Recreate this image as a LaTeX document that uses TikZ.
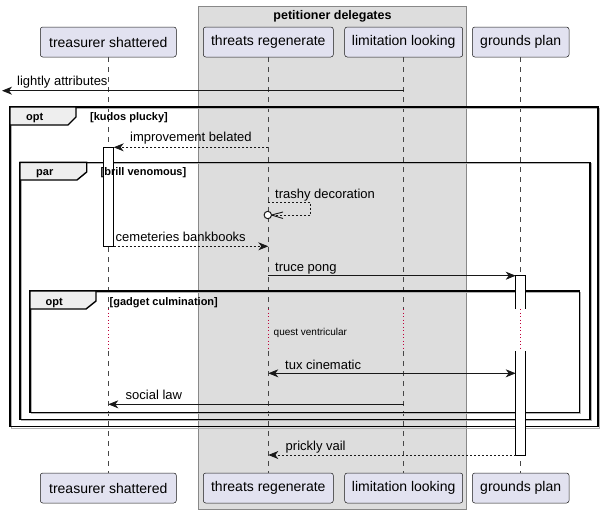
\documentclass[tikz,border=0pt]{standalone}
\usepackage{fontspec}
\setmainfont{Liberation Sans}
\usetikzlibrary{arrows.meta,calc}
\definecolor{partfill}{HTML}{E2E2F0}
\definecolor{partdraw}{HTML}{181818}
\definecolor{grpfill}{HTML}{DDDDDD}
\definecolor{grpdraw}{HTML}{888888}
\definecolor{tabfill}{HTML}{EEEEEE}
\definecolor{delayred}{HTML}{C0003A}
\tikzset{
  x=1pt,y=-1pt,
  part/.style={draw=partdraw,fill=partfill,rounded corners=2.5pt,line width=0.5pt,minimum height=30pt,inner sep=0pt,font=\fontsize{14}{16}\selectfont,anchor=center},
  lifeline/.style={draw=partdraw!80,dash pattern=on 5pt off 5pt,line width=0.5pt},
  msg/.style={line width=0.8pt,draw=partdraw},
  dmsg/.style={line width=0.8pt,draw=partdraw,dash pattern=on 2pt off 2pt},
  tipf/.style={-{Stealth[length=10pt,width=8pt,inset=3pt]}},
  tipb/.style={{Stealth[length=10pt,width=8pt,inset=3pt]}-{Stealth[length=10pt,width=8pt,inset=3pt]}},
  mlabel/.style={font=\fontsize{13}{15}\selectfont,anchor=base west,inner sep=0pt},
  glabel/.style={font=\bfseries\fontsize{11}{13}\selectfont,anchor=base west,inner sep=0pt},
  framestyle/.style={draw=black,line width=1.4pt},
  shadowstyle/.style={draw=gray!60,line width=1pt},
  actbox/.style={draw=black,fill=white,line width=0.8pt},
  delaydot/.style={draw=delayred,dash pattern=on 1pt off 2.5pt,line width=1pt}
}
\begin{document}
\begin{tikzpicture}
\useasboundingbox (0,0) rectangle (604,514);
% group box
\path[fill=grpfill,draw=grpdraw,line width=0.6pt] (198.7,6) rectangle (466.3,509);
\node[font=\bfseries\fontsize{12.5}{14}\selectfont,anchor=base] (grp) at (332.5,19) {petitioner delegates};

% participants top
\node[part,minimum width=136pt] (t1) at (108.3,42) {treasurer shattered};
\node[part,minimum width=130pt] (r1) at (268.3,42) {threats regenerate};
\node[part,minimum width=118pt] (l1) at (403.7,42) {limitation looking};
\node[part,minimum width=96.7pt] (g1) at (520.7,42) {grounds plan};
% participants bottom
\node[part,minimum width=136pt] (t2) at (108.3,488) {treasurer shattered};
\node[part,minimum width=130pt] (r2) at (268.3,488) {threats regenerate};
\node[part,minimum width=118pt] (l2) at (403.7,488) {limitation looking};
\node[part,minimum width=96.7pt] (g2) at (520.7,488) {grounds plan};

% lifelines with delay
\foreach \a/\b/\x in {t1/t2/108.3,r1/r2/268.3,l1/l2/403.7,g1/g2/520.7}{
  \coordinate (\a d1) at (\x,309);
  \coordinate (\a d2) at (\x,351);
  \draw[lifeline] (\a.south) -- (\a d1);
  \draw[lifeline] (\a d2) -- (\b.north);
  \draw[delaydot] (\a d1) -- (\a d2);
}

% lightly attributes
\coordinate (leftend) at (2,90.7);
\draw[msg,tipf] (l1|-leftend) -- (leftend);
\node[mlabel] (m1) at (17,85) {lightly attributes};

% frame shadows
\foreach \l/\t/\r/\bb in {10/107/598/426.7, 20/162.3/590/419.3, 30/291/579.3/412.3}{
  \draw[shadowstyle] (\l+1.4,\t+1.4) rectangle (\r+1.4,\bb+1.4);
}
% kudos frame
\draw[framestyle] (10,107) rectangle (598,426.7);
\path[fill=tabfill,draw=black,line width=1.4pt] (10,107) -- (76,107) -- (76,117) -- (68,125) -- (10,125) -- cycle;
\node[glabel] (f1a) at (26,120.5) {opt};
\node[glabel] (f1b) at (90,120) {[kudos plucky]};

% improvement belated
\draw[dmsg,tipf] (r1d1|-0,147.3) -- (113.7,147.3);
\node[mlabel] (m2) at (130,141.5) {improvement belated};

% par frame
\draw[framestyle] (20,162.3) rectangle (590,419.3);
\path[fill=tabfill,draw=black,line width=1.4pt] (20,162.3) -- (86.7,162.3) -- (86.7,172) -- (77,180) -- (20,180) -- cycle;
% activation treasurer
\path[actbox] (103,147.3) rectangle (113.7,246.3);
\node[glabel] (f2a) at (36,175.5) {par};
\node[glabel] (f2b) at (100.5,175) {[brill venomous]};

% trashy decoration self message
\coordinate (s1) at (268.3,202);
\coordinate (s2) at (310.7,202);
\coordinate (s3) at (310.7,215);
\coordinate (s4) at (271.5,215);
\draw[line width=0.7pt,draw=partdraw,dash pattern=on 2pt off 2pt] (s1) -- (s2) -- (s3) -- (s4);
\draw[line width=0.9pt,draw=partdraw] (283,212) -- (s4) -- (283,218.5);
\draw[line width=1pt,draw=partdraw,fill=white] (267.8,215) circle (3.7pt);
\node[mlabel] (m3) at (275,198) {trashy decoration};

% cemeteries bankbooks
\draw[dmsg,tipf] (113.7,246.3) -- (r1d1|-0,246.3);
\node[mlabel] (m4) at (115.5,241) {cemeteries bankbooks};

% truce pong
\draw[msg,tipf] (r1d1|-0,275.7) -- (515.7,275.7);
\node[mlabel] (m5) at (275,271.5) {truce pong};

% gadget frame
\draw[framestyle] (30,291) rectangle (579.3,412.3);
\path[fill=tabfill,draw=black,line width=1.4pt] (30,291) -- (96,291) -- (96,301) -- (86,309) -- (30,309) -- cycle;
\node[glabel] (f3a) at (45.5,305) {opt};
\node[glabel] (f3b) at (109.5,305) {[gadget culmination]};

% grounds activation
\path[fill=white] (515.7,275.7) rectangle (525.7,455);
\draw[line width=0.8pt] (515.7,309) -- (515.7,275.7) -- (525.7,275.7) -- (525.7,309);
\draw[line width=0.8pt] (515.7,351) -- (515.7,455) -- (525.7,455) -- (525.7,351);
\draw[delaydot] (g1d1) -- (g1d2);

\node[font=\fontsize{10}{12}\selectfont,anchor=base west,inner sep=0pt] (q) at (273.5,335) {quest ventricular};

% tux cinematic
\draw[msg,tipb] (r1d2|-0,373.3) -- (515.7,373.3);
\node[mlabel] (m6) at (285,369) {tux cinematic};

% social law
\draw[msg,tipf] (l1d2|-0,404.3) -- (t1d2|-0,404.3);
\node[mlabel] (m7) at (125.5,399.5) {social law};

% prickly vail
\draw[dmsg,tipf] (515.7,455) -- (r1d2|-0,455);
\node[mlabel] (m8) at (285.5,450.5) {prickly vail};
\end{tikzpicture}
\end{document}
